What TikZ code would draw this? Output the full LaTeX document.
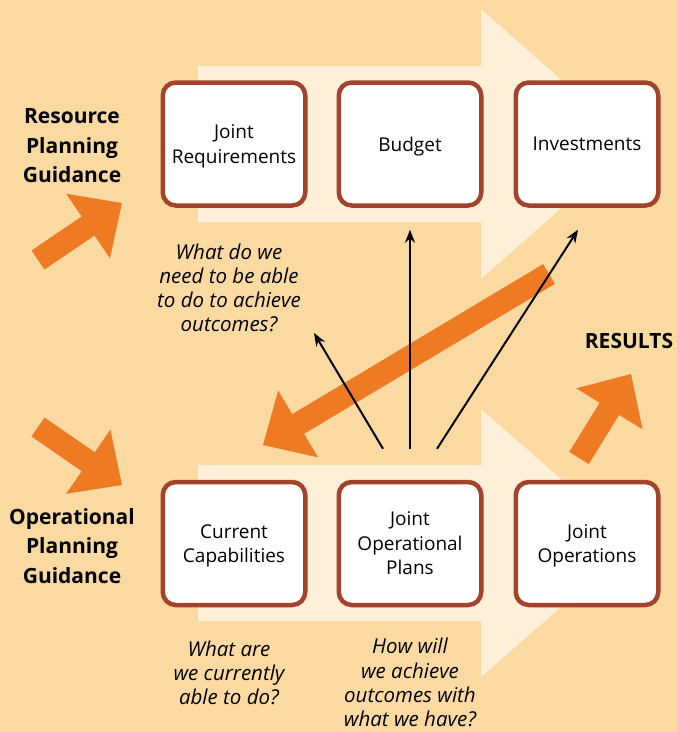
\documentclass[tikz,border=0pt]{standalone}
\usepackage{fontspec}
\setmainfont{Open Sans}
\usetikzlibrary{arrows.meta,calc}

\definecolor{peach}{RGB}{251,218,162}
\definecolor{cream}{RGB}{254,239,217}
\definecolor{fatorange}{RGB}{239,122,36}
\definecolor{rust}{RGB}{163,67,43}

% broad orange arrow: #1 tail, #2 tip
\newcommand{\fatarrow}[2]{%
  \coordinate (fa-base) at ($(#2)!41pt!(#1)$);
  \fill[fatorange] ($(#1)!11.5pt!90:(#2)$) -- ($(fa-base)!11.5pt!90:(#2)$)
    -- ($(fa-base)!39pt!90:(#2)$) -- (#2) -- ($(fa-base)!39pt!-90:(#2)$)
    -- ($(fa-base)!11.5pt!-90:(#2)$) -- ($(#1)!11.5pt!-90:(#2)$) -- cycle;}

\begin{document}
\begin{tikzpicture}[x=1pt,y=-1pt,
  stage/.style={draw=rust,line width=4.5pt,rounded corners=13pt,fill=white,
    minimum width=142.5pt,minimum height=123pt,align=center,text depth=0pt,
    font=\fontsize{19}{24.5}\selectfont},
  question/.style={align=center,inner sep=1pt,font=\fontsize{20.5}{24.2}\selectfont\itshape},
  guidance/.style={align=center,font=\fontsize{21}{29.5}\selectfont\bfseries},
  link/.style={line width=2pt,-{Stealth[length=13pt,width=10pt]}}]
  \useasboundingbox (0,0) rectangle (677,732);
  \fill[peach] (0,0) rectangle (677,732);

  % resource flow
  \fill[cream] (198,66) -- (481,66) -- (481,9) -- (634,144) -- (481,279)
    -- (481,222) -- (198,222) -- cycle;
  % operational flow
  \fill[cream] (198,465) -- (481,465) -- (481,409) -- (634,543) -- (481,677)
    -- (481,621) -- (198,621) -- cycle;

  % stages
  \node[stage] (jreq) at (234,144) {Joint\\Requirements};
  \node[stage] (budget) at (410,144) {Budget};
  \node[stage] (invest) at (587,144) {Investments};
  \node[stage] (ccap) at (234,543.5) {Current\\Capabilities};
  \node[stage] (jop) at (410,543.5) {Joint\\Operational\\Plans};
  \node[stage] (jops) at (587,543.5) {Joint\\Operations};

  % guidance and results
  \node[guidance] (rpg) at (72,146) {Resource\\Planning\\Guidance};
  \node[guidance] (opg) at (72,546) {Operational\\Planning\\Guidance};
  \node[guidance] (results) at (629,341) {RESULTS};

  % questions
  \node[question] (qneed) at (229,288) {What do we\\need to be able\\to do to achieve\\outcomes?};
  \node[question] (qnow) at (229,673) {What are\\we currently\\able to do?};
  \node[question] (qhow) at (410,682.5) {How will\\we achieve\\outcomes with\\what we have?};

  % orange arrows
  \coordinate (rpg-tail) at (38,260);
  \coordinate (rpg-tip) at (122,203);
  \coordinate (opg-tail) at (38,427);
  \coordinate (opg-tip) at (122,485);
  \coordinate (back-tail) at (549,274);
  \coordinate (back-tip) at (263,445);
  \coordinate (res-tail) at (579,458);
  \coordinate (res-tip) at (631,374);
  \fatarrow{rpg-tail}{rpg-tip}
  \fatarrow{opg-tail}{opg-tip}
  \fatarrow{back-tail}{back-tip}
  \fatarrow{res-tail}{res-tip}

  % plans feed back
  \coordinate (qtip) at (314,333);
  \draw[link] ([xshift=-27pt,yshift=31pt]jop.north) -- (qtip);
  \draw[link] ([yshift=31pt]jop.north) -- ([yshift=-22pt]budget.south);
  \draw[link] ([xshift=27pt,yshift=31pt]jop.north) -- ([xshift=-9pt,yshift=-22pt]invest.south);
\end{tikzpicture}
\end{document}
